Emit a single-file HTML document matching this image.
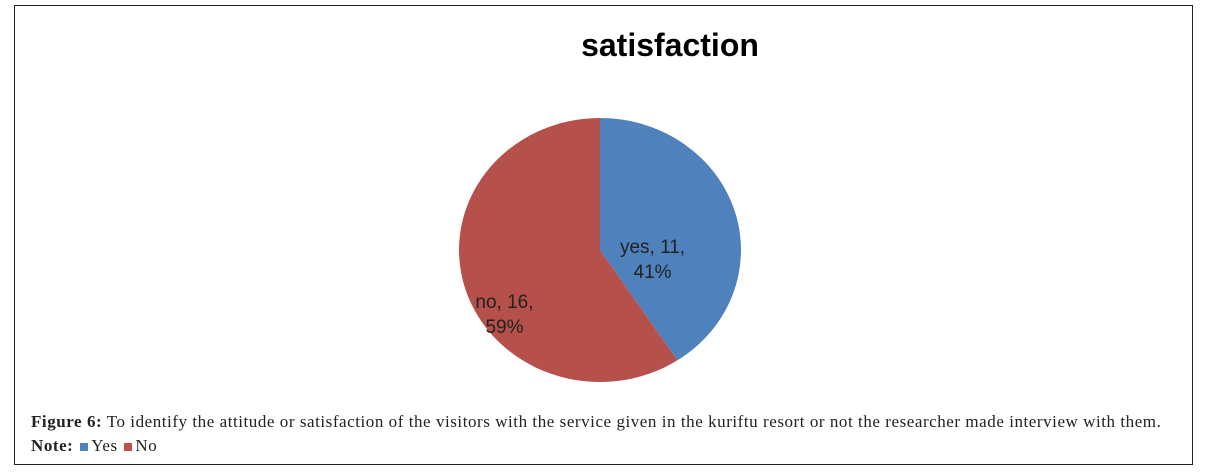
<!DOCTYPE html>
<html><head><meta charset="utf-8"><style>
body{margin:0;width:1208px;height:476px;background:#fff;position:relative;overflow:hidden}
#frame{position:absolute;left:14px;top:5px;width:1177px;height:458px;border:1px solid #222}
.cap{position:absolute;left:31px;font-family:"Liberation Serif",serif;font-size:17px;letter-spacing:0.55px;color:#222;white-space:nowrap}
.sw{display:inline-block;width:8px;height:8px;margin:0 3px 0 2px}
</style></head><body>
<div id="frame"></div>
<svg id="chart" width="1208" height="476" style="position:absolute;left:0;top:0">
<text x="670" y="56" text-anchor="middle" font-family="Liberation Sans, sans-serif" font-weight="bold" font-size="32" fill="#000">satisfaction</text>
<g id="slices"></g>
</svg>
<div class="cap" style="top:412px"><b>Figure 6:</b> To identify the attitude or satisfaction of the visitors with the service given in the kuriftu resort or not the researcher made interview with them.</div>
<div class="cap" style="top:436px"><b>Note:</b> <span class="sw" style="background:#4f81bd"></span>Yes <span class="sw" style="background:#c0504d"></span>No</div>
<script>
const categories=["yes","no"];
const values=[11,16];
const percents=["41%","59%"];
const colors=["#4f81bd","#b5504b"];
const cx=600,cy=250,rx=141,ry=132;
const g=document.getElementById('slices');
const ns="http://www.w3.org/2000/svg";
const total=values.reduce((a,b)=>a+b,0);
let a0=0;
values.forEach((v,i)=>{
  const a1=a0+v/total*2*Math.PI;
  const p=(a)=>[cx+rx*Math.sin(a),cy-ry*Math.cos(a)];
  const s=p(a0),e=p(a1);
  const large=(a1-a0)>Math.PI?1:0;
  const path=document.createElementNS(ns,'path');
  path.setAttribute('d',`M${cx},${cy} L${s[0]},${s[1]} A${rx},${ry} 0 ${large} 1 ${e[0]},${e[1]} Z`);
  path.setAttribute('fill',colors[i]);
  
  
  g.appendChild(path);
  const mid=(a0+a1)/2;
  const lx=cx+rx*0.5*Math.sin(mid), ly=cy-ry*0.5*Math.cos(mid);
  const t=document.createElementNS(ns,'text');
  t.setAttribute('text-anchor','middle');
  t.setAttribute('font-family','Liberation Sans, sans-serif');
  t.setAttribute('font-size','19');
  t.setAttribute('fill','#222');
  
  
  const x=i===0?lx-15:lx-28, y=i===0?ly+22:ly+39;
  const t1=document.createElementNS(ns,'tspan');t1.setAttribute('x',x);t1.setAttribute('y',y);t1.textContent=categories[i]+', '+v+',';
  const t2=document.createElementNS(ns,'tspan');t2.setAttribute('x',x);t2.setAttribute('y',y+25);t2.textContent=percents[i];
  t.appendChild(t1);t.appendChild(t2);g.appendChild(t);
  a0=a1;
});
</script>
</body></html>
